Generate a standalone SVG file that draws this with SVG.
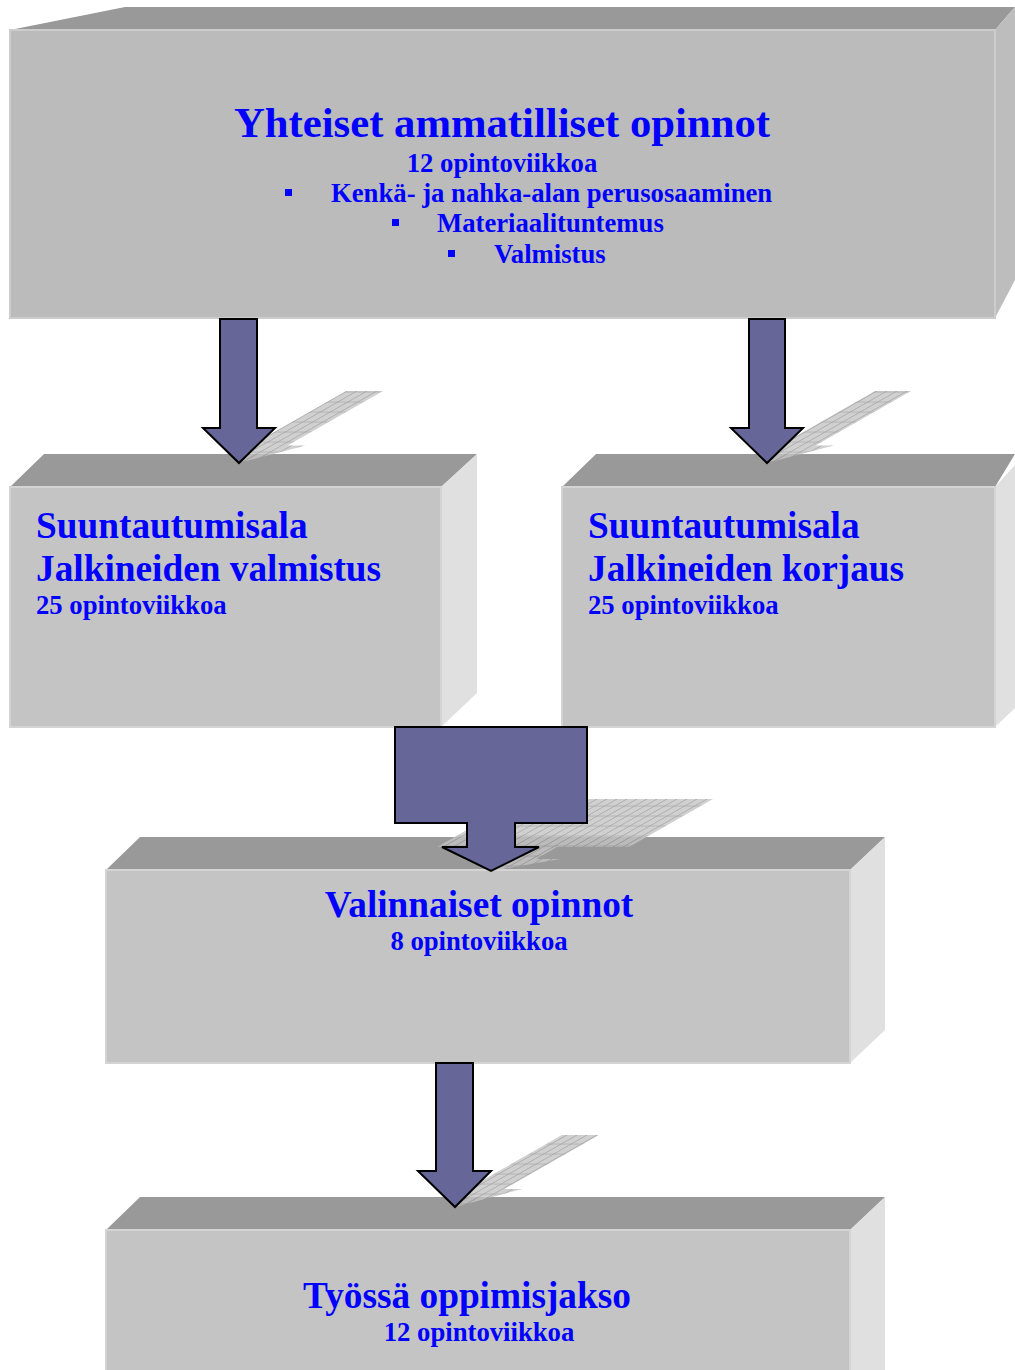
<svg xmlns="http://www.w3.org/2000/svg" width="1015" height="1370" viewBox="0 0 1015 1370">
<style>
.front{fill:#c4c4c4;stroke:#d4d4d4;stroke-width:2}
.front1{fill:#bbbbbb;stroke:#cccccc;stroke-width:2}
.top{fill:#999999}
.side{fill:#e0e0e0}
.side1{fill:#bdbdbd}
.arrow{fill:#666699;stroke:#000;stroke-width:2;stroke-linejoin:miter}
.shadow{fill:url(#hatch);opacity:0.8}
text{font-family:"Liberation Serif","Times New Roman",serif;font-weight:bold;fill:#0000ff}
.t1{font-size:42.7px}
.t2{font-size:37.3px}
.t3{font-size:26.7px}
.bul{fill:#0000ff}
</style>
<defs>
<pattern id="hatch" patternUnits="userSpaceOnUse" width="10" height="20">
<rect width="10" height="20" fill="#c4c4c4"/>
<path d="M0 1H10M1 0V20" stroke="#8a8a8a" stroke-width="1.2"/>
</pattern>
</defs>
<rect width="1015" height="1370" fill="#ffffff"/>

<g id="node-yhteiset">
<polygon class="top" points="10,30 125,7 1015,7 995,30"/>
<polygon class="side1" points="995,30 1015,7 1015,280 995,318"/>
<rect class="front1" x="10" y="30" width="985" height="288"/>
<text class="t1" x="502" y="137" text-anchor="middle">Yhteiset ammatilliset opinnot</text>
<text class="t3" x="502" y="172" text-anchor="middle">12 opintoviikkoa</text>
<rect class="bul" x="285" y="189" width="7" height="7"/>
<text class="t3" x="331" y="202">Kenkä- ja nahka-alan perusosaaminen</text>
<rect class="bul" x="392" y="219" width="7" height="7"/>
<text class="t3" x="437" y="232">Materiaalituntemus</text>
<rect class="bul" x="448" y="250" width="7" height="7"/>
<text class="t3" x="494" y="263">Valmistus</text>
</g>

<g id="node-valmistus">
<polygon class="top" points="10,487 44,454 477,454 441,487"/>
<polygon class="side" points="441,487 477,454 477,693 441,727"/>
<rect class="front" x="10" y="487" width="431" height="240"/>
<text class="t2" x="36" y="538">Suuntautumisala</text>
<text class="t2" x="36" y="581">Jalkineiden valmistus</text>
<text class="t3" x="36" y="614">25 opintoviikkoa</text>
</g>

<g id="node-korjaus">
<polygon class="top" points="562,487 596,454 1015,454 995,487"/>
<polygon class="side" points="995,487 1015,465 1015,708 995,727"/>
<rect class="front" x="562" y="487" width="433" height="240"/>
<text class="t2" x="588" y="538">Suuntautumisala</text>
<text class="t2" x="588" y="581">Jalkineiden korjaus</text>
<text class="t3" x="588" y="614">25 opintoviikkoa</text>
</g>

<g id="node-valinnaiset">
<polygon class="top" points="106,870 140,837 885,837 850,870"/>
<polygon class="side" points="850,870 885,837 885,1030 850,1063"/>
<rect class="front" x="106" y="870" width="744" height="193"/>
<text class="t2" x="479" y="917" text-anchor="middle">Valinnaiset opinnot</text>
<text class="t3" x="479" y="950" text-anchor="middle">8 opintoviikkoa</text>
</g>

<g id="node-tyossa">
<polygon class="top" points="106,1230 140,1197 885,1197 850,1230"/>
<polygon class="side" points="850,1230 885,1197 885,1390 850,1423"/>
<rect class="front" x="106" y="1230" width="744" height="160"/>
<text class="t2" x="467" y="1308" text-anchor="middle">Työssä oppimisjakso</text>
<text class="t3" x="479" y="1341" text-anchor="middle">12 opintoviikkoa</text>
</g>

<g id="connectors">
<polygon class="shadow" transform="translate(239,463) matrix(1,0,-0.875,0.5,0,0) translate(-239,-463)" points="220,319 257,319 257,428 275,428 239,463 203,428 220,428"/>
<polygon class="shadow" transform="translate(767,463) matrix(1,0,-0.875,0.5,0,0) translate(-767,-463)" points="749,319 785,319 785,428 803,428 767,463 731,428 749,428"/>
<polygon class="shadow" transform="translate(491,871) matrix(1,0,-0.875,0.5,0,0) translate(-491,-871)" points="395,727 587,727 587,823 515,823 515,847 539,847 491,871 442,847 467,847 467,823 395,823"/>
<polygon class="shadow" transform="translate(455,1207) matrix(1,0,-0.875,0.5,0,0) translate(-455,-1207)" points="436,1063 473,1063 473,1171 491,1171 455,1207 418,1171 436,1171"/>
<polygon class="arrow" points="220,319 257,319 257,428 275,428 239,463 203,428 220,428"/>
<polygon class="arrow" points="749,319 785,319 785,428 803,428 767,463 731,428 749,428"/>
<polygon class="arrow" points="395,727 587,727 587,823 515,823 515,847 539,847 491,871 442,847 467,847 467,823 395,823"/>
<polygon class="arrow" points="436,1063 473,1063 473,1171 491,1171 455,1207 418,1171 436,1171"/>
</g>
</svg>
